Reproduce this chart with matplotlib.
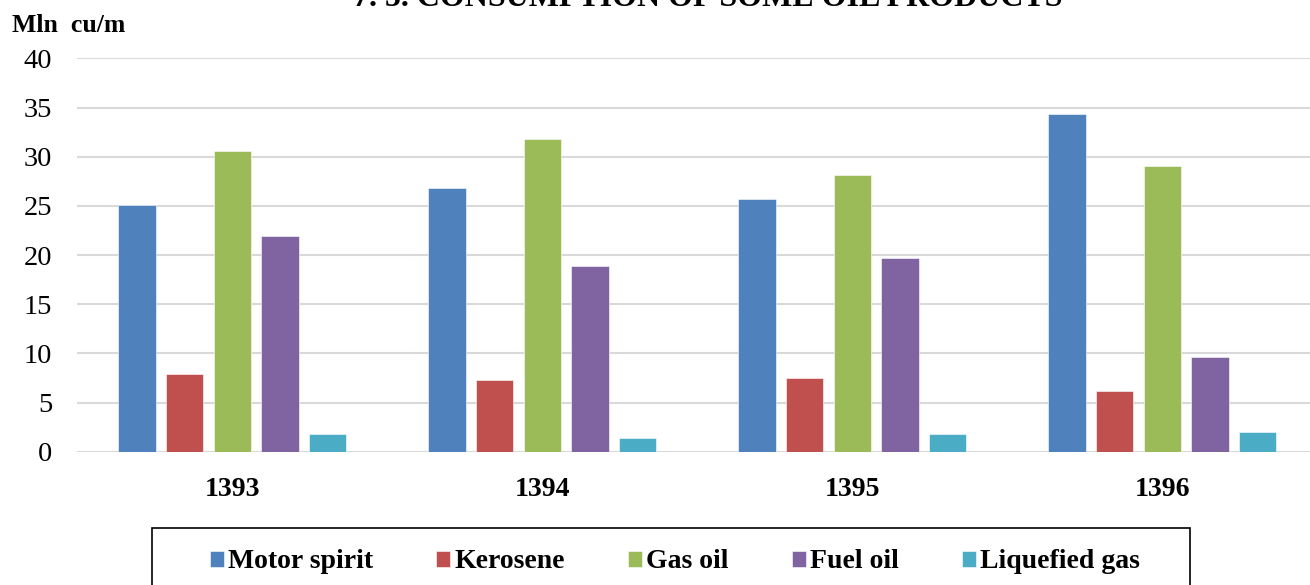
import numpy as np
import matplotlib
matplotlib.use("Agg")
import matplotlib.pyplot as plt
from matplotlib.patches import Rectangle

years = ["1393", "1394", "1395", "1396"]
products = ["Motor spirit", "Kerosene", "Gas oil", "Fuel oil", "Liquefied gas"]
motor_spirit = [25.1, 26.8, 25.7, 34.3]
kerosene = [7.9, 7.3, 7.5, 6.2]
gas_oil = [30.6, 31.8, 28.1, 29.1]
fuel_oil = [21.9, 18.9, 19.7, 9.6]
liquefied_gas = [1.8, 1.4, 1.8, 2.0]
colors = ["#4F81BD", "#C0504D", "#9BBB59", "#8064A2", "#4BACC6"]

plt.rcParams["font.family"] = ["Liberation Serif", "DejaVu Serif"]

W, H = 1310, 585
fig = plt.figure(figsize=(W / 100, H / 100), dpi=100)
ax = fig.add_axes([77.3 / W, 133.3 / H, (W - 77.3) / W, 393.3 / H])

series = [motor_spirit, kerosene, gas_oil, fuel_oil, liquefied_gas]
x = np.arange(len(years))
pitch = 0.1538
width = 0.1206
for i, vals in enumerate(series):
    ax.bar(x + (i - 2) * pitch, vals, width, color=colors[i], label=products[i],
           edgecolor="white", linewidth=0.4, zorder=3)

ax.set_xlim(-0.5, -0.5 + (W - 77.3) / 310)
ax.set_ylim(0, 40)
ax.set_yticks(range(0, 41, 5))
ax.grid(axis="y", color="#D9D9D9", linewidth=1.5, zorder=0)
for s in ax.spines.values():
    s.set_visible(False)
ax.set_xticks(x)
ax.set_xticklabels(years, fontsize=20, fontweight="bold")
ax.tick_params(axis="x", length=0, pad=18.5)
ax.tick_params(axis="y", length=0, pad=18, labelsize=20.5)

fig.text(11.7 / W, 1 - 32.3 / H, "Mln  cu/m", fontsize=18.5, fontweight="bold", va="baseline")
# title is cut off at the top edge, as in the source image
fig.text(708 / W, 1 - 6.5 / H, "7. 5. CONSUMPTION OF SOME OIL PRODUCTS",
         fontsize=23, fontweight="bold", ha="center", va="baseline")

fig.patches.append(Rectangle((152 / W, -0.2), (1190 - 152) / W, 0.2 + (H - 528) / H,
                             transform=fig.transFigure, fill=False, edgecolor="black",
                             linewidth=1.2))
fig.legend(loc="center", bbox_to_anchor=(675 / W, (H - 562) / H), ncol=5, frameon=False,
           prop={"size": 20, "weight": "bold"}, handlelength=0.5, handleheight=0.5,
           handletextpad=0.15, columnspacing=2.28)

fig.savefig("out.png", dpi=100)
